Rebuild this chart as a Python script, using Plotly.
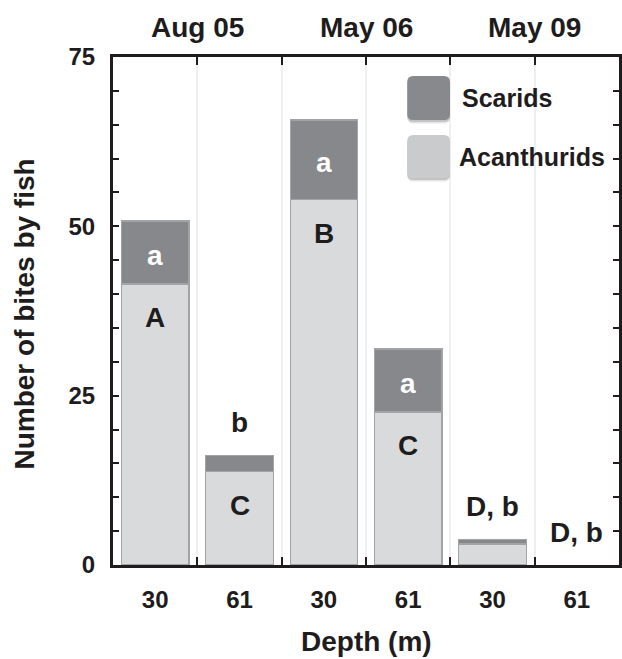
import plotly.graph_objects as go

# ---- data ----
depth_labels = ["30", "61", "30", "61", "30", "61"]
period_labels = ["Aug 05", "May 06", "May 09"]
acanthurids = [41.5, 13.8, 54.0, 22.6, 3.1, 0.0]
scarids = [9.3, 2.4, 11.7, 9.3, 0.7, 0.0]
scarid_inside_labels = ["a", "", "a", "a", "", ""]
acanth_labels = ["A", "C", "B", "C", "", ""]
above_labels = ["", "b", "", "", "D, b", "D, b"]
y_ticks = [0, 25, 50, 75]

W, H = 622, 659
L, R, T, B = 113, 0, 57, 94
PW, PH = W - L - R, H - T - B
FONT = "Arial, Liberation Sans, Helvetica, sans-serif"
BLACK = "#1e1c1d"
SCAR_C = "#87888c"
ACAN_C = "#d9dadc"
EDGE = "#a2a3a5"

xs = list(range(len(depth_labels)))
bounds = [i + 0.5 for i in xs[:-1]]

def px_x(p):
    return (p - L) / PW

def px_y(p):
    return 1 - (p - T) / PH

def bfont(size, color=BLACK):
    return dict(family=FONT, size=size, color=color, weight="bold")

fig = go.Figure()
fig.add_trace(go.Bar(x=xs, y=acanthurids, name="Acanthurids", width=0.8,
                     marker=dict(color=ACAN_C,
                                 line=dict(color=EDGE, width=[1.2 if v > 0 else 0 for v in acanthurids])),
                     showlegend=False))
fig.add_trace(go.Bar(x=xs, y=scarids, name="Scarids", width=0.8,
                     marker=dict(color=SCAR_C,
                                 line=dict(color=EDGE, width=[1.2 if v > 0 else 0 for v in scarids])),
                     showlegend=False))

ann = []
for i in xs:
    tot = acanthurids[i] + scarids[i]
    if scarid_inside_labels[i]:
        ann.append(dict(x=i, y=acanthurids[i] + scarids[i] / 2, text=scarid_inside_labels[i],
                        showarrow=False, yanchor="middle", yshift=-3,
                        font=bfont(28, "white")))
    if acanth_labels[i]:
        ann.append(dict(x=i, y=acanthurids[i], text=acanth_labels[i], showarrow=False,
                        yanchor="middle", yshift=-34, font=bfont(28)))
    if above_labels[i]:
        ann.append(dict(x=i, y=tot, text=above_labels[i], showarrow=False,
                        yanchor="middle", yshift=33, font=bfont(28)))

for k, lab in enumerate(period_labels):
    ann.append(dict(x=2 * k + 0.5, y=px_y(27), yref="paper", text=lab, showarrow=False,
                    yanchor="middle", font=bfont(28)))

# axis titles
ann.append(dict(x=px_x(23), y=px_y(314), xref="paper", yref="paper",
                text="Number of bites by fish", textangle=-90, showarrow=False,
                xanchor="center", yanchor="middle", font=bfont(28)))
ann.append(dict(x=px_x(368), y=px_y(659), xref="paper", yref="paper",
                text="Depth (m)", showarrow=False, xanchor="center", yanchor="bottom",
                font=bfont(28)))

# legend (custom, rounded swatches)
shapes = []
def rounded(x0, y0, x1, y1, r):
    X0, X1 = px_x(x0), px_x(x1)
    Y0, Y1 = px_y(y0), px_y(y1)
    rx, ry = r / PW, r / PH
    return (f"M {X0+rx},{Y0} L {X1-rx},{Y0} Q {X1},{Y0} {X1},{Y0-ry} "
            f"L {X1},{Y1+ry} Q {X1},{Y1} {X1-rx},{Y1} L {X0+rx},{Y1} "
            f"Q {X0},{Y1} {X0},{Y1+ry} L {X0},{Y0-ry} Q {X0},{Y0} {X0+rx},{Y0} Z")

legend_items = [("Scarids", "#88898d", 76, 120, 462, 98),
                ("Acanthurids", "#cacbcd", 135, 178, 459, 157)]
for name, col, y0, y1, tx, ty in legend_items:
    for off, a in [(3.5, 0.10), (2, 0.14)]:
        shapes.append(dict(type="path", xref="paper", yref="paper",
                           path=rounded(409, y0 + off, 452, y1 + off, 6),
                           fillcolor=f"rgba(0,0,0,{a})", line=dict(width=0), layer="above"))
    shapes.append(dict(type="path", xref="paper", yref="paper",
                       path=rounded(409, y0, 452, y1, 6),
                       fillcolor=col, line=dict(width=0), layer="above"))
    ann.append(dict(x=px_x(tx), y=px_y(ty), xref="paper", yref="paper", text=name,
                    showarrow=False, xanchor="left", yanchor="middle", font=bfont(25)))

fig.update_layout(
    width=W, height=H, barmode="stack",
    margin=dict(l=L, r=R, t=T, b=B, pad=0),
    paper_bgcolor="white", plot_bgcolor="white",
    annotations=ann, shapes=shapes, showlegend=False,
    xaxis=dict(range=[-0.5, 5.5], tickmode="array", tickvals=xs, ticktext=depth_labels,
               ticks="", showgrid=False, zeroline=False,
               showline=True, linecolor=BLACK, linewidth=3, mirror="ticks",
               ticklabelstandoff=11, tickfont=bfont(24),
               minor=dict(tickmode="array", tickvals=bounds, ticks="inside", ticklen=8,
                          tickwidth=2, tickcolor=BLACK, showgrid=True,
                          gridcolor="#efefef", gridwidth=2)),
    yaxis=dict(range=[0, 75], tickmode="array", tickvals=y_ticks,
               ticks="inside", ticklen=6, tickwidth=2, tickcolor=BLACK,
               showgrid=False, zeroline=False,
               showline=True, linecolor=BLACK, linewidth=3, mirror="ticks",
               ticklabelstandoff=10, tickfont=bfont(24),
               minor=dict(dtick=5, tick0=0, ticks="inside", ticklen=6, tickwidth=2,
                          tickcolor=BLACK, showgrid=False)),
)

fig.write_html("out.html")
